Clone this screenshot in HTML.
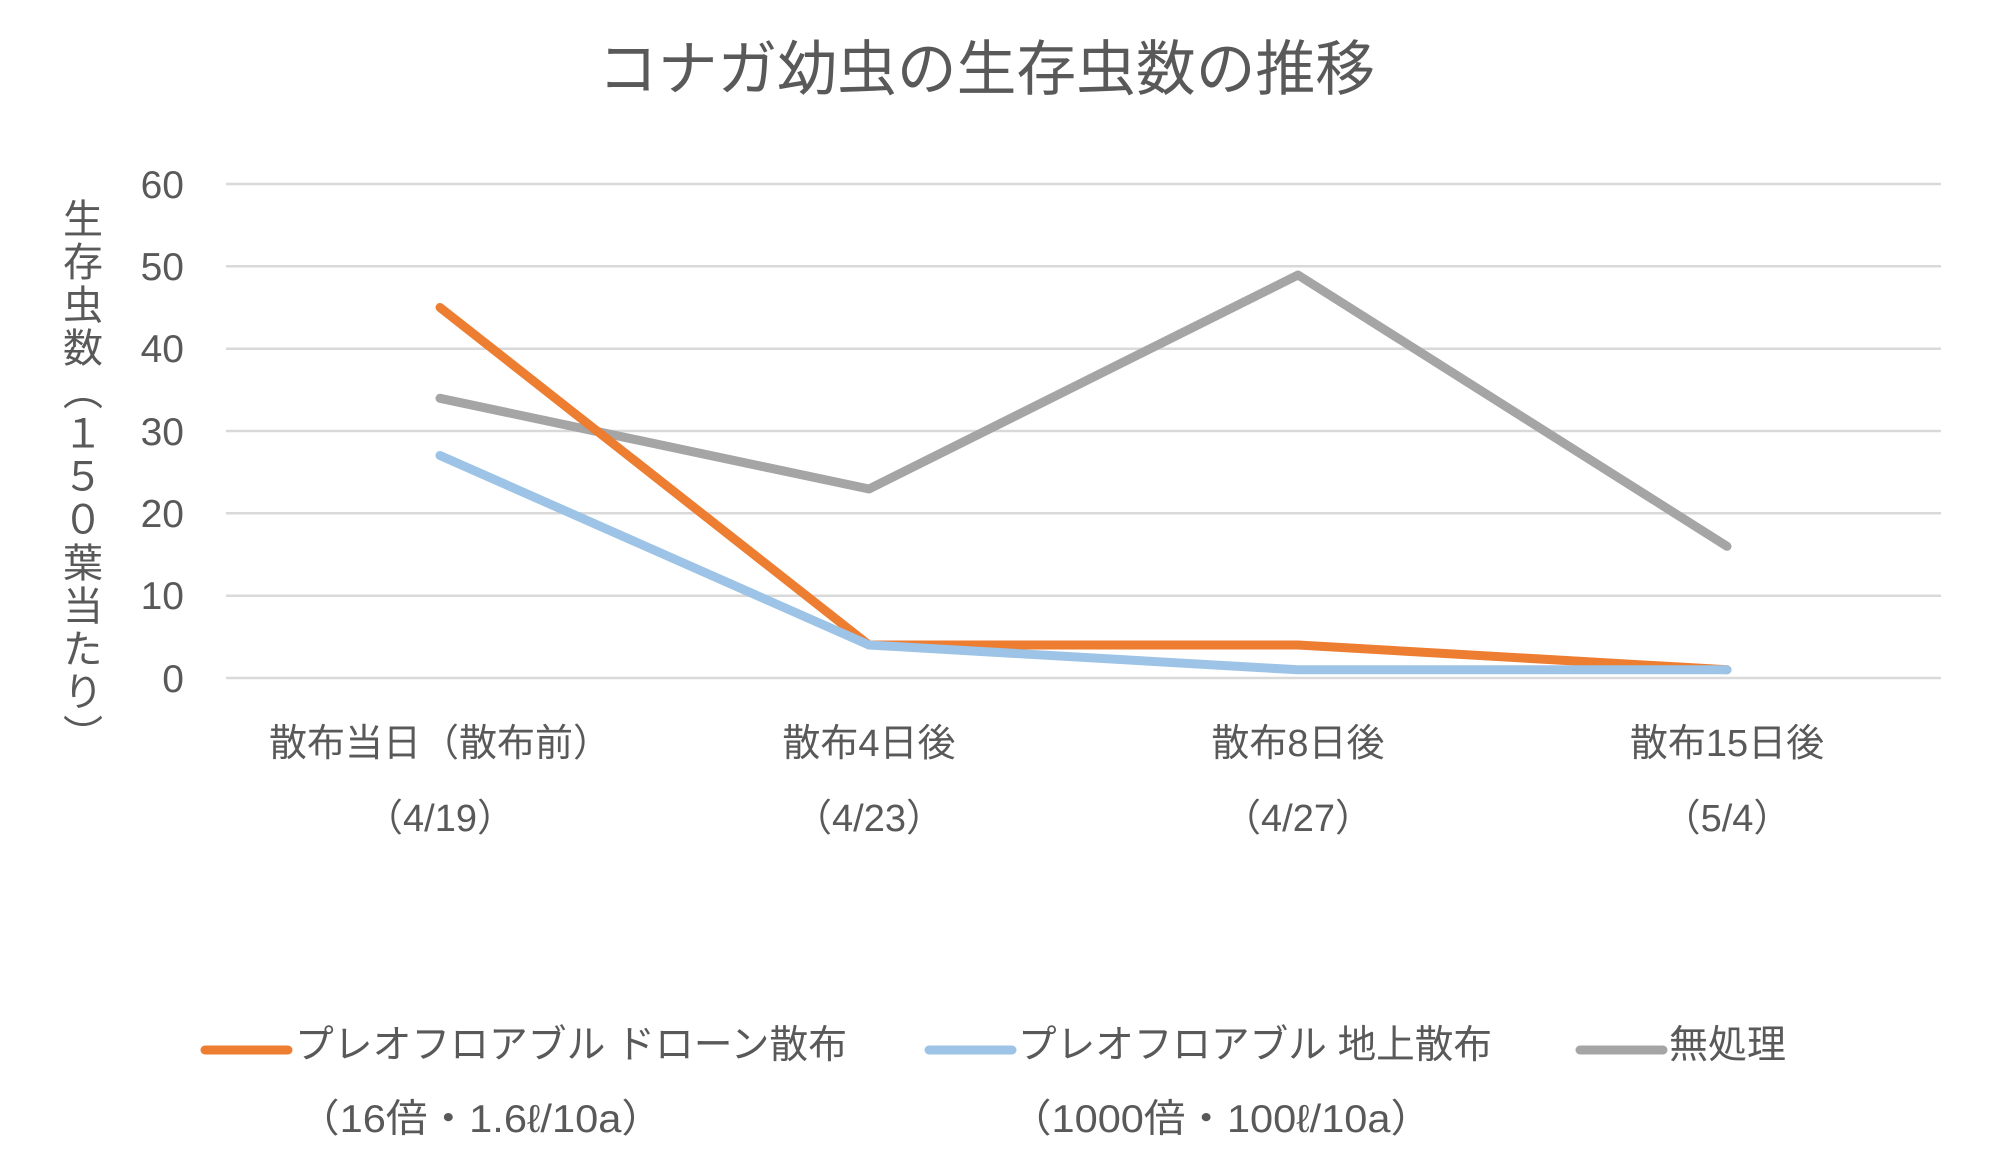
<!DOCTYPE html>
<html><head><meta charset="utf-8"><style>
html,body{margin:0;padding:0;background:#fff;}
svg{display:block;}
text{font-family:"Liberation Sans","Noto Sans CJK JP",sans-serif;fill:#595959;}
</style></head><body>
<svg width="2000" height="1165" viewBox="0 0 2000 1165" xmlns="http://www.w3.org/2000/svg">
<text x="598" y="90" font-size="60" textLength="777" lengthAdjust="spacingAndGlyphs">コナガ幼虫の生存虫数の推移</text>
<g stroke="#d9d9d9" stroke-width="2.5">
<line x1="226" y1="184" x2="1941" y2="184"/>
<line x1="226" y1="266.3" x2="1941" y2="266.3"/>
<line x1="226" y1="348.7" x2="1941" y2="348.7"/>
<line x1="226" y1="431" x2="1941" y2="431"/>
<line x1="226" y1="513.3" x2="1941" y2="513.3"/>
<line x1="226" y1="595.7" x2="1941" y2="595.7"/>
<line x1="226" y1="678" x2="1941" y2="678"/>
</g>
<g font-size="39" text-anchor="end">
<text x="184" y="198">60</text>
<text x="184" y="280">50</text>
<text x="184" y="362">40</text>
<text x="184" y="445">30</text>
<text x="184" y="527">20</text>
<text x="184" y="609">10</text>
<text x="184" y="692">0</text>
</g>
<text x="79" y="198" font-size="40" style="writing-mode:vertical-rl;letter-spacing:3px" text-anchor="start">生存虫数（１５０葉当たり）</text>
<g font-size="38" text-anchor="middle">
<text x="440" y="756">散布当日（散布前）</text>
<text x="869" y="756">散布4日後</text>
<text x="1298" y="756">散布8日後</text>
<text x="1727" y="756">散布15日後</text>
<text x="440" y="831">（4/19）</text>
<text x="869" y="831">（4/23）</text>
<text x="1298" y="831">（4/27）</text>
<text x="1727" y="831">（5/4）</text>
</g>
<g fill="none" stroke-width="9" stroke-linecap="round" stroke-linejoin="round">
<polyline stroke="#A5A5A5" points="440,398.3 869,489 1298,275 1727,546.3"/>
<polyline stroke="#ED7D31" points="440,307.5 869,645 1298,645 1727,669.8"/>
<polyline stroke="#9DC3E6" points="440,455.5 869,645 1298,669.8 1727,669.8"/>
</g>
<g stroke-width="9" stroke-linecap="round">
<line x1="205" y1="1050" x2="288" y2="1050" stroke="#ED7D31"/>
<line x1="929" y1="1050" x2="1012" y2="1050" stroke="#9DC3E6"/>
<line x1="1580" y1="1050" x2="1663" y2="1050" stroke="#A5A5A5"/>
</g>
<g font-size="39">
<text x="295" y="1058" textLength="552" lengthAdjust="spacingAndGlyphs">プレオフロアブル ドローン散布</text>
<text x="1018" y="1058" textLength="474" lengthAdjust="spacingAndGlyphs">プレオフロアブル 地上散布</text>
<text x="1669" y="1058">無処理</text>
<text x="298" y="1132" textLength="365" lengthAdjust="spacingAndGlyphs">（16倍・1.6ℓ/10a）</text>
<text x="1010" y="1132" textLength="422" lengthAdjust="spacingAndGlyphs">（1000倍・100ℓ/10a）</text>
</g>
</svg>
</body></html>
